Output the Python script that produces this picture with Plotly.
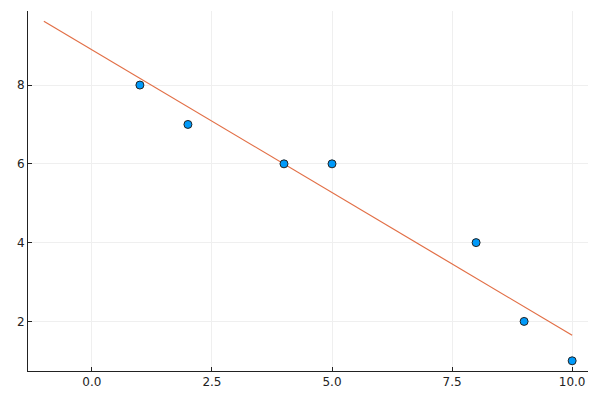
import plotly.graph_objects as go

x_points = [1, 2, 4, 5, 8, 9, 10]
y_points = [8, 7, 6, 6, 4, 2, 1]
fit_x = [-1, 10]
fit_y = [9.62, 1.647]
x_ticks = [0.0, 2.5, 5.0, 7.5, 10.0]
x_tick_labels = ["0.0", "2.5", "5.0", "7.5", "10.0"]
y_ticks = [2, 4, 6, 8]
y_tick_labels = ["2", "4", "6", "8"]

fig = go.Figure()
fig.add_trace(go.Scatter(x=fit_x, y=fit_y, mode="lines",
                         line=dict(color="#E26F46", width=1.2), showlegend=False))
fig.add_trace(go.Scatter(x=x_points, y=y_points, mode="markers",
                         marker=dict(color="#009AFA", size=8,
                                     line=dict(color="#222222", width=1)),
                         showlegend=False))

axis_common = dict(showgrid=True, gridcolor="#efefef", gridwidth=1,
                   zeroline=False, showline=True, linecolor="#222222", linewidth=1,
                   ticks="inside", ticklen=4, tickcolor="#222222",
                   tickfont=dict(family="DejaVu Sans", size=12, color="#222222"),
                   mirror=False, automargin=False)
fig.update_xaxes(range=[-1.33, 10.33], tickvals=x_ticks, ticktext=x_tick_labels, **axis_common)
fig.update_yaxes(range=[0.741, 9.88], tickvals=y_ticks, ticktext=y_tick_labels, **axis_common)
fig.update_layout(width=592, height=392, plot_bgcolor="white", paper_bgcolor="white",
                  margin=dict(l=20, r=12, t=3, b=29))
fig.write_html("out.html")
